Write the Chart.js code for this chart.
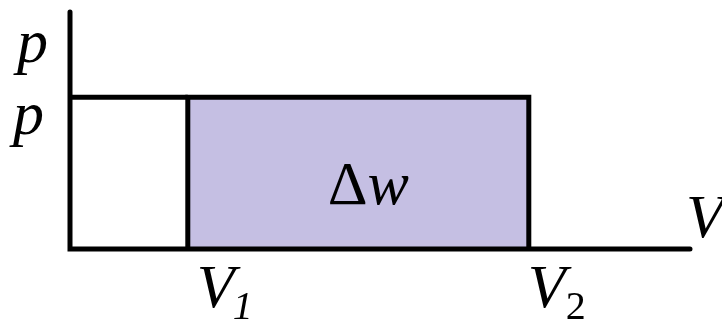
<!DOCTYPE html>
<html>
<head>
<meta charset="utf-8">
<script src="https://cdn.jsdelivr.net/npm/chart.js@4.4.1/dist/chart.umd.min.js"></script>
<style>
  html, body { margin: 0; padding: 0; background: #ffffff; }
  canvas { display: block; }
</style>
</head>
<body>
<canvas id="pv" width="722" height="321"></canvas>
<script>
// Diagram values (arbitrary units)
const axisMax = [10, 10];          // V axis end, p axis end
const volumes = [1.9, 7.4];        // V1, V2
const pressures = [6.4];           // p
const volumeLabels = ["V", "V"];
const volumeSubs = ["1", "2"];
const axisTitles = ["p", "V"];
const areaLabel = ["Δ", "w"];

const serifFamily = "'Liberation Serif', 'Times New Roman', serif";

function setFont(ctx, size, italic) {
    ctx.font = (italic ? "italic " : "") + size + "px " + serifFamily;
}

// Texte auf die Achsenwerte setzen
const labelPlugin = {
    id: "pvLabels",
    afterDatasetsDraw(chart) {
        const { ctx, scales } = chart;
        const x = scales.x, y = scales.y;
        ctx.save();
        ctx.fillStyle = "#000000";
        ctx.textBaseline = "alphabetic";
        ctx.textAlign = "left";

        // p-Achse: Titel oben und Wert beim Druck
        setFont(ctx, 62, true);
        ctx.fillText(axisTitles[0], x.left - 53, y.top + 50);
        ctx.fillText("p", x.left - 57, y.getPixelForValue(pressures[0]) + 37);

        // V-Achse: Titel rechts
        ctx.fillText(axisTitles[1], x.right - 4, y.bottom - 12);

        // V1, V2 unter der Achse
        const subOffset = [[9, -2], [-1, 0]];
        volumes.forEach((v, i) => {
            const px = x.getPixelForValue(v) + subOffset[i][0];
            setFont(ctx, 62, true);
            ctx.fillText(volumeLabels[i], px, y.bottom + 58);
            const w = ctx.measureText(volumeLabels[i]).width;
            setFont(ctx, 40, i === 0);
            ctx.fillText(volumeSubs[i], px + w + subOffset[i][1], y.bottom + 70);
        });

        // Delta w in der Fläche
        const cx = (x.getPixelForValue(volumes[0]) + x.getPixelForValue(volumes[1])) / 2;
        const cy = (y.getPixelForValue(pressures[0]) + y.bottom) / 2;
        setFont(ctx, 62, false);
        const dw = ctx.measureText(areaLabel[0]).width;
        setFont(ctx, 62, true);
        const ww = ctx.measureText(areaLabel[1]).width;
        const start = cx + 10 - (dw + ww) / 2;
        setFont(ctx, 62, false);
        ctx.fillText(areaLabel[0], start, cy + 31);
        setFont(ctx, 62, true);
        ctx.fillText(areaLabel[1], start + dw, cy + 31);
        ctx.restore();
    }
};

const line = { showLine: true, pointRadius: 0, borderColor: "#000000", borderWidth: 5, clip: false, fill: false };

new Chart(document.getElementById("pv"), {
    type: "scatter",
    data: {
        datasets: [
            {
                ...line,
                borderCapStyle: "round",
                borderJoinStyle: "miter",
                data: [{ x: 0, y: axisMax[1] }, { x: 0, y: 0 }, { x: axisMax[0], y: 0 }],
            },
            {
                ...line,
                borderJoinStyle: "miter",
                data: [{ x: 0, y: pressures[0] }, { x: volumes[0], y: pressures[0] }],
            },
            {
                ...line,
                borderJoinStyle: "miter",
                fill: "origin",
                backgroundColor: "#c5bfe3",
                data: [
                    { x: volumes[0], y: 0 },
                    { x: volumes[0], y: pressures[0] },
                    { x: volumes[1], y: pressures[0] },
                    { x: volumes[1], y: 0 },
                ],
            },
        ],
    },
    options: {
        responsive: false,
        animation: false,
        layout: { padding: { left: 70, right: 32, top: 12, bottom: 72 } },
        plugins: { legend: { display: false }, tooltip: { enabled: false } },
        scales: {
            x: { type: "linear", min: 0, max: axisMax[0], display: false },
            y: { type: "linear", min: 0, max: axisMax[1], display: false },
        },
    },
    plugins: [labelPlugin],
});
</script>
</body>
</html>
